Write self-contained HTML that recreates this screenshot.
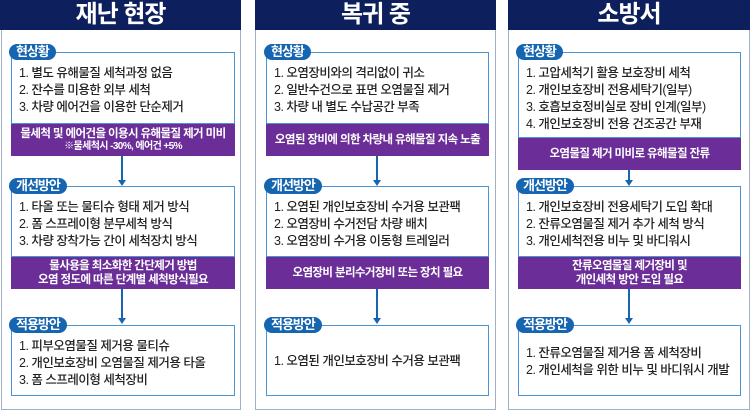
<!DOCTYPE html>
<html><head><meta charset="utf-8"><style>
*{margin:0;padding:0;box-sizing:border-box}
body{width:750px;height:404px;background:#fff;position:relative;overflow:hidden;font-family:"Liberation Sans","Noto Sans CJK KR",sans-serif}
.a{position:absolute}
.hd{background:#0d1f5c;color:#fff;font-weight:bold;font-size:24px;text-align:center;line-height:30px;height:30px;top:0;letter-spacing:-1px}
.pn{border:1.5px solid #9fb0c8;border-top:none;top:30px;height:380px}
.bx{border:1.5px solid #4a95d6;background:#fff}
.pill{background:#1565b0;color:#fff;font-weight:bold;font-size:13px;line-height:16px;height:16px;border-radius:8px;padding:0 7px;letter-spacing:-1px;z-index:3}
.txt{font-size:12.5px;color:#222;line-height:17px;letter-spacing:-0.5px;font-weight:500}
.pu{background:#6b2d97;color:#fff;font-weight:bold;font-size:11.5px;text-align:center;letter-spacing:-0.6px;display:flex;flex-direction:column;justify-content:center;line-height:14px}
.ar{width:2px;background:#1565b0}
.ah{width:0;height:0;border-left:4px solid transparent;border-right:4px solid transparent;border-top:6px solid #1565b0}
</style></head><body>

<div class="a hd" style="left:0;width:241px">재난 현장</div>
<div class="a pn" style="left:1px;width:240px"></div>
<div class="a bx" style="left:11px;top:52px;width:224px;height:72px"></div>
<div class="a pill" style="left:9px;top:44px">현상황</div>
<div class="a txt" style="left:19px;top:65px">1. 별도 유해물질 세척과정 없음<br>2. 잔수를 미용한 외부 세척<br>3. 차량 에어건을 이용한 단순제거</div>
<div class="a pu" style="left:11px;top:124px;width:224px;height:32px"><div>물세척 및 에어건을 이용시 유해물질 제거 미비</div><div style="font-size:10px;line-height:12px">※물세척시 -30%, 에어건 +5%</div></div>
<div class="a ar" style="left:121px;top:156px;height:25px"></div><div class="a ah" style="left:118px;top:180px"></div>

<div class="a bx" style="left:11px;top:186px;width:224px;height:71px"></div>
<div class="a pill" style="left:9px;top:178px">개선방안</div>
<div class="a txt" style="left:19px;top:199px">1. 타올 또는 물티슈 형태 제거 방식<br>2. 폼 스프레이형 분무세척 방식<br>3. 차량 장착가능 간이 세척장치 방식</div>
<div class="a pu" style="left:11px;top:257px;width:224px;height:32px"><div>물사용을 최소화한 간단제거 방법</div><div>오염 정도에 따른 단계별 세척방식필요</div></div>
<div class="a ar" style="left:121px;top:289px;height:30px"></div><div class="a ah" style="left:118px;top:318px"></div>

<div class="a bx" style="left:11px;top:325px;width:224px;height:71px"></div>
<div class="a pill" style="left:9px;top:317px">적용방안</div>
<div class="a txt" style="left:19px;top:338px">1. 피부오염물질 제거용 물티슈<br>2. 개인보호장비 오염물질 제거용 타올<br>3. 폼 스프레이형 세척장비</div>

<div class="a hd" style="left:255px;width:241px">복귀 중</div>
<div class="a pn" style="left:255px;width:241px"></div>
<div class="a bx" style="left:266px;top:52px;width:223px;height:72px"></div>
<div class="a pill" style="left:264px;top:44px">현상황</div>
<div class="a txt" style="left:274px;top:65px">1. 오염장비와의 격리없이 귀소<br>2. 일반수건으로 표면 오염물질 제거<br>3. 차량 내 별도 수납공간 부족</div>
<div class="a pu" style="left:266px;top:124px;width:223px;height:32px"><div>오염된 장비에 의한 차량내 유해물질 지속 노출</div></div>
<div class="a ar" style="left:376px;top:156px;height:25px"></div><div class="a ah" style="left:373px;top:180px"></div>

<div class="a bx" style="left:266px;top:186px;width:223px;height:71px"></div>
<div class="a pill" style="left:264px;top:178px">개선방안</div>
<div class="a txt" style="left:274px;top:199px">1. 오염된 개인보호장비 수거용 보관팩<br>2. 오염장비 수거전담 차량 배치<br>3. 오염장비 수거용 이동형 트레일러</div>
<div class="a pu" style="left:266px;top:257px;width:223px;height:32px"><div>오염장비 분리수거장비 또는 장치 필요</div></div>
<div class="a ar" style="left:376px;top:289px;height:30px"></div><div class="a ah" style="left:373px;top:318px"></div>

<div class="a bx" style="left:266px;top:325px;width:223px;height:71px"></div>
<div class="a pill" style="left:264px;top:317px">적용방안</div>
<div class="a txt" style="left:274px;top:353px">1. 오염된 개인보호장비 수거용 보관팩</div>

<div class="a hd" style="left:508px;width:242px">소방서</div>
<div class="a pn" style="left:508px;width:242px"></div>
<div class="a bx" style="left:518px;top:52px;width:223px;height:86px"></div>
<div class="a pill" style="left:516px;top:44px">현상황</div>
<div class="a txt" style="left:526px;top:65px">1. 고압세척기 활용 보호장비 세척<br>2. 개인보호장비 전용세탁기(일부)<br>3. 호흡보호정비실로 장비 인계(일부)<br>4. 개인보호장비 전용 건조공간 부재</div>
<div class="a pu" style="left:518px;top:138px;width:223px;height:32px"><div>오염물질 제거 미비로 유해물질 잔류</div></div>
<div class="a ar" style="left:628px;top:170px;height:11px"></div><div class="a ah" style="left:625px;top:180px"></div>

<div class="a bx" style="left:518px;top:186px;width:223px;height:71px"></div>
<div class="a pill" style="left:516px;top:178px">개선방안</div>
<div class="a txt" style="left:526px;top:199px">1. 개인보호장비 전용세탁기 도입 확대<br>2. 잔류오염물질 제거 추가 세척 방식<br>3. 개인세척전용 비누 및 바디워시</div>
<div class="a pu" style="left:518px;top:257px;width:223px;height:32px"><div>잔류오염물질 제거장비 및</div><div>개인세척 방안 도입 필요</div></div>
<div class="a ar" style="left:628px;top:289px;height:30px"></div><div class="a ah" style="left:625px;top:318px"></div>

<div class="a bx" style="left:518px;top:325px;width:223px;height:71px"></div>
<div class="a pill" style="left:516px;top:317px">적용방안</div>
<div class="a txt" style="left:526px;top:345px">1. 잔류오염물질 제거용 폼 세척장비<br>2. 개인세척을 위한 비누 및 바디워시 개발</div>

</body></html>
